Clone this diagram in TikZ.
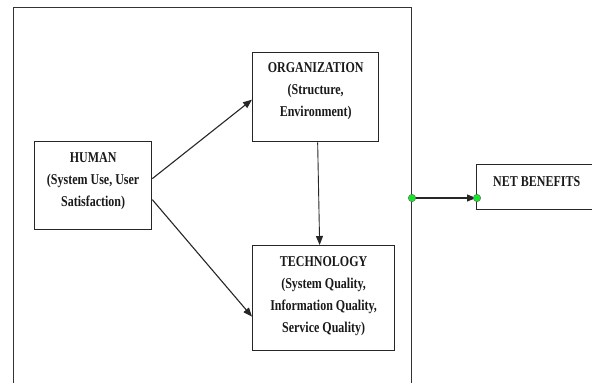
\documentclass[tikz,border=0pt]{standalone}
\usepackage{fontspec}
\setmainfont{Liberation Serif}[FakeStretch=0.8]
\usetikzlibrary{arrows.meta,calc}
\definecolor{lime}{RGB}{20,230,40}
\tikzset{
  box/.style={draw=black!85, line width=1.3pt, rectangle, inner sep=0pt, anchor=north west},
  txt/.style={align=center, inner sep=0pt, font=\bfseries\fontsize{15}{22}\selectfont, text=black!90},
  arr/.style={draw=black!85, line width=1.1pt, -{Triangle[length=9pt,width=7pt]}},
  dot/.style={circle, fill=lime, draw=black!60, line width=0.4pt, inner sep=0pt, minimum size=7.5pt}
}
\begin{document}
\begin{tikzpicture}[x=1pt,y=-1pt]
\useasboundingbox (0,0) rectangle (592,383);
% outer frame (open at the bottom of the picture)
\node[draw=black!80, line width=1pt, rectangle, inner sep=0pt, anchor=north west,
      minimum width=398pt, minimum height=400pt] (frame) at (13,7) {};
\node[box, minimum width=126pt, minimum height=89pt,
      label={[txt, anchor=north, yshift=-10.5pt]north:{ORGANIZATION\\(Structure,\\Environment)}}] (org) at (252,52) {};
\node[box, minimum width=117pt, minimum height=88pt,
      label={[txt, anchor=north, yshift=-11.5pt]north:{HUMAN\\(System Use, User\\Satisfaction)}}] (human) at (34,141) {};
\node[box, minimum width=142pt, minimum height=105pt,
      label={[txt, anchor=north, yshift=-11.5pt]north:{TECHNOLOGY\\(System Quality,\\Information Quality,\\Service Quality)}}] (tech) at (252,245) {};
\node[box, minimum width=140pt, minimum height=45pt,
      label={[txt, anchor=north west, yshift=-12.5pt, xshift=17pt]north west:{NET BENEFITS}}] (net) at (476,164) {};
\coordinate (out) at ($(frame.north east)+(0,191)$);
\coordinate (in) at (net.west |- out);
\draw[arr] ($(human.east)+(0,-7)$) -- ($(org.west)+(0,2.5)$);
\draw[arr] ($(human.east)+(0,14)$) -- ($(tech.west)+(0,18.5)$);
\draw[arr, line width=0.9pt] ($(org.south)+(2,0)$) -- ($(tech.north)+(-4,0)$);
\draw[arr] (out) -- (in);
\node[dot] (d1) at (out) {};
\node[dot] (d2) at ($(in)+(1,0)$) {};
\end{tikzpicture}
\end{document}
